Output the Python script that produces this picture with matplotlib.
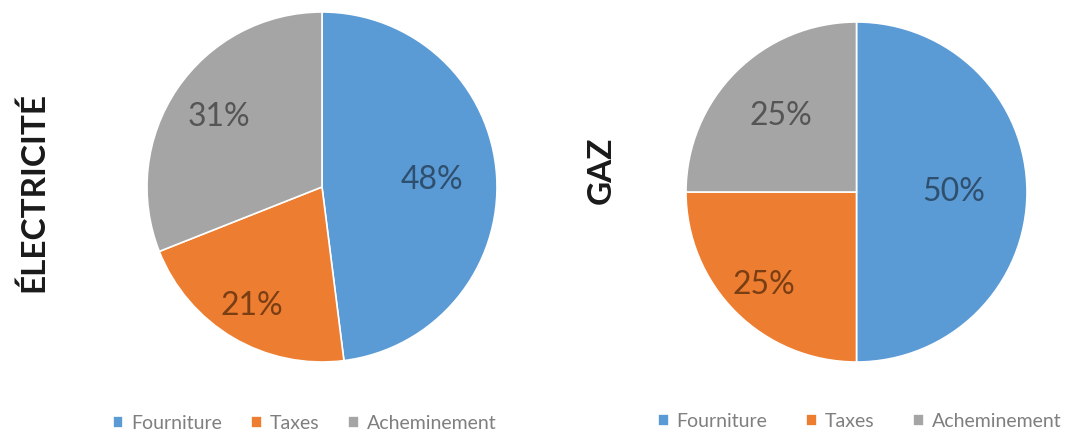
import numpy as np
import matplotlib.pyplot as plt

# Share of the bill by component, in percent
categories = ['Fourniture', 'Taxes', 'Acheminement']
elec_shares = [48, 21, 31]
gaz_shares = [50, 25, 25]

colors = ['#5B9BD5', '#ED7D31', '#A5A5A5']
label_colors = ['#2F4F6E', '#7A3E14', '#555555']

plt.rcParams['font.family'] = ['Lato', 'DejaVu Sans']


def draw_pie(ax, shares, title, title_x, title_y, label_dist, legend_x, colspace):
    wedges, _, autotexts = ax.pie(
        shares, colors=colors, startangle=90, counterclock=False,
        autopct='%d%%', radius=1,
        wedgeprops=dict(edgecolor='white', linewidth=1.2),
    )
    # place each percentage along its wedge's bisector
    for w, t, c, d in zip(wedges, autotexts, label_colors, label_dist):
        ang = np.deg2rad((w.theta1 + w.theta2) / 2)
        t.set_position((d * np.cos(ang), d * np.sin(ang)))
        t.set_color(c)
        t.set_fontsize(23)
    ax.set_xlim(-1.0, 1.0)
    ax.set_ylim(-1.0, 1.0)
    ax.set_aspect('auto')
    ax.legend(wedges, categories, loc='center', bbox_to_anchor=(legend_x, -0.175),
              ncol=3, frameon=False, fontsize=14, labelcolor='#7f7f7f',
              handlelength=0.55, handleheight=0.55, handletextpad=0.4,
              columnspacing=colspace)
    fig.text(title_x, title_y, title, rotation=90, ha='center', va='center',
             fontsize=24, fontweight='bold', color='#1a1a1a')


fig = plt.figure(figsize=(10.68, 4.32), dpi=100)
ax1 = fig.add_axes([147 / 1068, 70 / 432, 350 / 1068, 350 / 432])
ax2 = fig.add_axes([686 / 1068, 70 / 432, 341 / 1068, 340 / 432])

draw_pie(ax1, elec_shares, 'ÉLECTRICITÉ', 33 / 1068, 1 - 192 / 432,
         [0.63, 0.79, 0.71], 0.45, 1.5)
draw_pie(ax2, gaz_shares, 'GAZ', 601 / 1068, 1 - 170 / 432,
         [0.57, 0.77, 0.63], 0.51, 2.0)

plt.savefig('out.png', dpi=100)
